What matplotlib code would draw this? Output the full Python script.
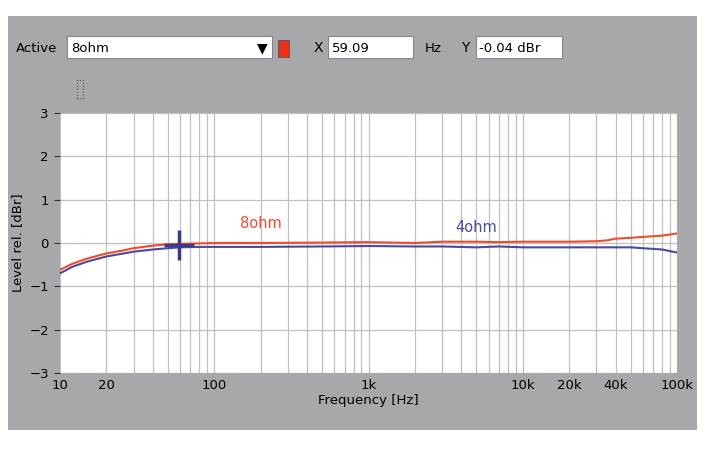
import matplotlib
matplotlib.use("Agg")
import matplotlib.pyplot as plt
from matplotlib.patches import Rectangle
import numpy as np

# data
freq = [10, 12, 15, 20, 25, 30, 40, 50, 60, 80, 100, 200, 500, 1000, 2000, 3000,
        5000, 7000, 10000, 20000, 30000, 35000, 40000, 50000, 60000, 80000, 100000]
lvl_8 = [-0.62, -0.48, -0.36, -0.24, -0.18, -0.12, -0.06, -0.03, -0.02, -0.01, 0.0, 0.0,
         0.01, 0.02, 0.0, 0.03, 0.03, 0.02, 0.03, 0.03, 0.04, 0.06, 0.1, 0.12, 0.14, 0.17, 0.22]
lvl_4 = [-0.7, -0.55, -0.43, -0.31, -0.25, -0.2, -0.15, -0.12, -0.1, -0.09, -0.09, -0.09,
         -0.08, -0.07, -0.08, -0.08, -0.1, -0.08, -0.1, -0.1, -0.1, -0.1, -0.1, -0.1, -0.12, -0.15, -0.22]
xticks = [10, 20, 100, 1000, 10000, 20000, 40000, 100000]
xticklabels = ["10", "20", "100", "1k", "10k", "20k", "40k", "100k"]
yticks = [-3, -2, -1, 0, 1, 2, 3]

fig = plt.figure(figsize=(7.05, 4.49), dpi=100)
fig.patch.set_facecolor("white")
gray = "#a6a8ab"
fig.patches.append(Rectangle((8/705, 19/449), 689/705, 414/449, transform=fig.transFigure,
                             facecolor=gray, edgecolor="none", zorder=-5))

ax = fig.add_axes([60/705, 1 - 373/449, 617/705, 260/449])
ax.set_facecolor("white")
ax.set_xscale("log")
ax.set_xlim(10, 100000)
ax.set_ylim(-3, 3)
ax.grid(True, which="both", axis="x", color="#c0c0c0", lw=0.9)
ax.grid(True, which="major", axis="y", color="#c0c0c0", lw=0.9)
ax.plot(freq, lvl_8, color="#f04a2a", lw=1.5)
ax.plot(freq, lvl_4, color="#4a4a9a", lw=1.5)
ax.plot([59.09], [-0.04], marker="+", ms=22, mew=2.5, color="#3a3a8a")
ax.text(200, 0.35, "8ohm", color="#f04a2a", fontsize=10.5, ha="center")
ax.text(5000, 0.25, "4ohm", color="#4a4a9a", fontsize=10.5, ha="center")
ax.set_xticks(xticks)
ax.set_xticklabels(xticklabels)
ax.xaxis.set_minor_formatter(matplotlib.ticker.NullFormatter())
ax.set_yticks(yticks)
ax.tick_params(which="both", length=0, labelsize=9.5, pad=4)
ax.tick_params(axis="y", length=4, direction="out", color="#333")
for s in ax.spines.values():
    s.set_visible(False)
ax.set_xlabel("Frequency [Hz]", fontsize=9.5, labelpad=2)
ax.set_ylabel("Level rel. [dBr]", fontsize=9.5, labelpad=4)

# top control bar
fig.text(16/705, 1 - 48/449, "Active", fontsize=9.5, va="center")
fig.patches.append(Rectangle((67/705, 1 - 58/449), 205/705, 22/449, transform=fig.transFigure,
                             facecolor="white", edgecolor="#888", lw=0.8))
fig.text(71/705, 1 - 48/449, "8ohm", fontsize=9.5, va="center")
fig.text(262/705, 1 - 48/449, "▼", fontsize=10, va="center", ha="center")
fig.patches.append(Rectangle((278/705, 1 - 57/449), 11/705, 17/449, transform=fig.transFigure,
                             facecolor="#e8301c", edgecolor="#555", lw=0.6))
fig.text(318/705, 1 - 48/449, "X", fontsize=10, va="center", ha="center")
fig.patches.append(Rectangle((328/705, 1 - 58/449), 85/705, 22/449, transform=fig.transFigure,
                             facecolor="white", edgecolor="#888", lw=0.8))
fig.text(332/705, 1 - 48/449, "59.09", fontsize=9.5, va="center")
fig.text(425/705, 1 - 48/449, "Hz", fontsize=9.5, va="center")
fig.text(465/705, 1 - 48/449, "Y", fontsize=10, va="center", ha="center")
fig.patches.append(Rectangle((476/705, 1 - 58/449), 86/705, 22/449, transform=fig.transFigure,
                             facecolor="white", edgecolor="#888", lw=0.8))
fig.text(479/705, 1 - 48/449, "-0.04 dBr", fontsize=9.5, va="center")
# small dotted icon
fig.patches.append(Rectangle((77/705, 1 - 98/449), 6/705, 18/449, transform=fig.transFigure,
                             facecolor="none", edgecolor="#555", lw=0.8, ls=":"))

fig.savefig("out.png", dpi=100, facecolor=fig.get_facecolor())
